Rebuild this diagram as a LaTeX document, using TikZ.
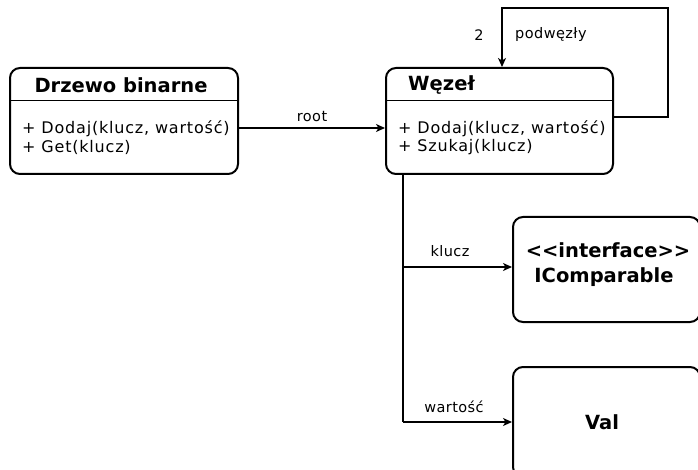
\documentclass[tikz,border=0pt]{standalone}
\usepackage{fontspec}
\setmainfont{DejaVu Sans}
\newfontfamily\bodyfont[LetterSpace=5]{DejaVu Sans}
\newfontfamily\lblfont[LetterSpace=3]{DejaVu Sans}
\usetikzlibrary{arrows.meta}
\begin{document}
\begin{tikzpicture}[x=1pt,y=-1pt,
  box/.style={draw,line width=2pt,rounded corners=10pt,inner sep=0pt},
  conn/.style={line width=1.4pt},
  arr/.style={conn,-{Stealth[length=9pt,width=8pt,inset=2.5pt]}},
  meth/.style={font=\bodyfont\fontsize{16}{19}\selectfont,anchor=west,inner sep=0pt},
  ttl/.style={font=\bfseries\fontsize{19.5}{22}\selectfont,inner sep=0pt},
  lbl/.style={font=\lblfont\fontsize{14.5}{17}\selectfont,inner sep=0pt}]
\useasboundingbox (0,0) rectangle (698,470);
% Drzewo binarne
\node[box,minimum width=228pt,minimum height=106pt] (drzewo) at (124,121) {};
\draw[line width=1pt] (drzewo.west |- 0,101) -- (drzewo.east |- 0,101);
\node[ttl] (dt) at (121,85) {Drzewo binarne};
\node[meth] (dm1) at (22,129) {+ Dodaj(klucz, wartość)};
\node[meth] (dm2) at (22,147) {+ Get(klucz)};
% Wezel
\node[box,minimum width=227pt,minimum height=106pt] (wezel) at (499.5,121) {};
\draw[line width=1pt] (wezel.west |- 0,101) -- (wezel.east |- 0,101);
\node[ttl,anchor=west] (wt) at (408,85) {Węzeł};
\node[meth] (wm1) at (398,129) {+ Dodaj(klucz, wartość)};
\node[meth] (wm2) at (398,147) {+ Szukaj(klucz)};
% IComparable
\node[box,minimum width=187pt,minimum height=105pt] (icomp) at (606.5,269.5) {};
\node[ttl] (it1) at (608,250) {<{}<interface>{}>};
\node[ttl] (it2) at (604,277) {IComparable};
% Val
\node[box,minimum width=187pt,minimum height=110pt] (val) at (606.5,422) {};
\node[ttl] (vt) at (602,422) {Val};
% root
\draw[arr] (drzewo.east |- 0,128) -- node[lbl,above=6pt] (lroot) {root} (wezel.west |- 0,128);
% self loop
\coordinate (l1) at (668,117);
\coordinate (l2) at (668,8);
\coordinate (l3) at (502,8);
\draw[arr] (wezel.east |- l1) -- (l1) -- (l2) -- (l3) -- (l3 |- wezel.north);
\node[lbl] (ltwo) at (479,35) {2};
\node[lbl,anchor=west] (lpod) at (515,35) {podwęzły};
% trunk
\coordinate (tk) at (403,267);
\coordinate (tv) at (403,422);
\draw[conn] (wezel.south -| tv) -- (tv);
\draw[arr] (tk) -- (icomp.west |- tk);
\draw[arr] (tv) -- (val.west |- tv);
\node[lbl] (lk) at (450,251) {klucz};
\node[lbl] (lw) at (454,407) {wartość};
\end{tikzpicture}
\end{document}
